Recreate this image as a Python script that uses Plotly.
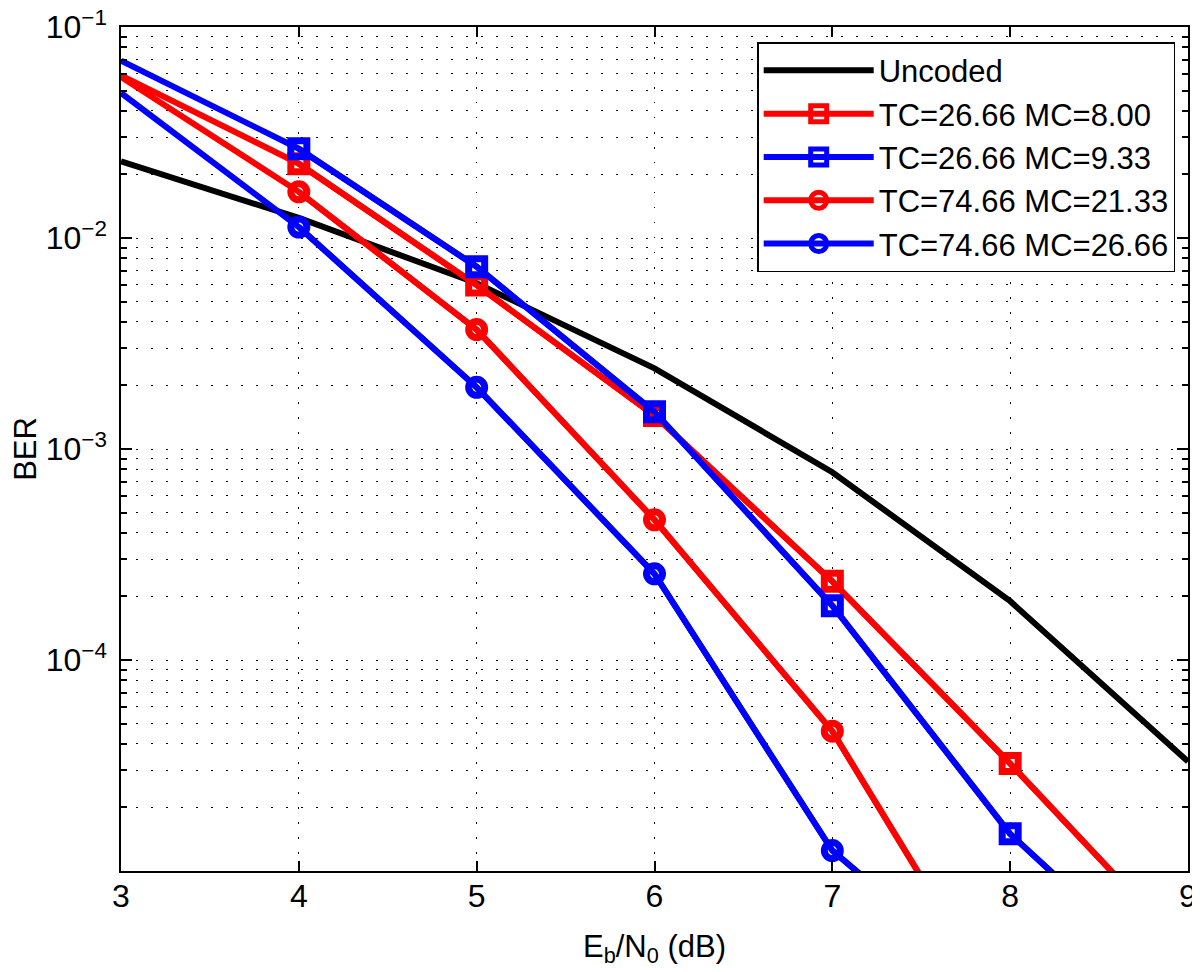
import plotly.graph_objects as go

ebn0 = [3, 4, 5, 6, 7, 8, 9]
ebn0_circ = [3, 4, 5, 6, 7, 8]

ber_uncoded = [0.0231, 0.01245, 0.0061, 0.00241, 7.76e-4, 1.9e-4, 3.3e-5]
ber_tc2666_mc800 = [0.059, 0.0225, 0.00598, 0.00144, 2.36e-4, 3.23e-5, 4.1e-6]
ber_tc2666_mc933 = [0.0693, 0.0265, 0.00731, 0.0015, 1.81e-4, 1.5e-5, 2.5e-6]
ber_tc7466_mc2133 = [0.058, 0.01655, 0.00368, 4.62e-4, 4.6e-5, 1.9e-6]
ber_tc7466_mc2666 = [0.0487, 0.01127, 0.00196, 2.56e-4, 1.25e-5, 2.4e-6]

names = ["Uncoded", "TC=26.66 MC=8.00", "TC=26.66 MC=9.33",
         "TC=74.66 MC=21.33", "TC=74.66 MC=26.66"]

y_major = [1e-4, 1e-3, 1e-2, 1e-1]
y_major_text = ["10<sup>\u22124</sup>", "10<sup>\u22123</sup>",
                "10<sup>\u22122</sup>", "10<sup>\u22121</sup>"]
y_minor = [k * 10.0 ** e for e in range(-5, -1) for k in range(2, 10)]
x_ticks = [3, 4, 5, 6, 7, 8, 9]

FONT = "Liberation Sans, Arial, Helvetica, sans-serif"
RED = "rgb(255,0,0)"
BLUE = "rgb(0,0,255)"
LW = 6

fig = go.Figure()

fig.add_trace(go.Scatter(x=ebn0, y=ber_uncoded, mode="lines", name=names[0],
                         line=dict(color="black", width=LW)))

series = [
    (ebn0, ber_tc2666_mc800, names[1], RED, "square-open"),
    (ebn0, ber_tc2666_mc933, names[2], BLUE, "square-open"),
    (ebn0_circ, ber_tc7466_mc2133, names[3], RED, "circle-open"),
    (ebn0_circ, ber_tc7466_mc2666, names[4], BLUE, "circle-open"),
]
for i, (xs, ys, nm, col, sym) in enumerate(series):
    # full line (no markers at the left edge point)
    fig.add_trace(go.Scatter(x=xs, y=ys, mode="lines", name=nm, legendgroup=nm,
                             showlegend=False, line=dict(color=col, width=LW)))
    fig.add_trace(go.Scatter(x=xs[1:], y=ys[1:], mode="lines+markers", name=nm,
                             legendgroup=nm, line=dict(color=col, width=LW),
                             marker=dict(symbol=sym, size=16, color=col,
                                         line=dict(color=col, width=7))))

grid_dash = "1.5px,13.5px"
fig.update_layout(
    width=1192, height=964,
    margin=dict(l=113, r=12, t=19, b=101),
    paper_bgcolor="white", plot_bgcolor="white",
    font=dict(family=FONT, size=32, color="black"),
    xaxis=dict(
        range=[3, 9], tickvals=x_ticks, ticks="inside", ticklen=10,
        tickwidth=1.5, tickcolor="black", showline=True, linecolor="black",
        linewidth=1.5, mirror="ticks", showgrid=True, gridcolor="black",
        gridwidth=1, griddash=grid_dash, zeroline=False, automargin=False,
        tickfont=dict(size=32), ticklabelstandoff=-4, ticklabeloverflow="allow",
        title=dict(text="E<sub>b</sub>/N<sub>0</sub> (dB)", font=dict(size=31),
                   standoff=22),
    ),
    yaxis=dict(
        type="log", range=[-5, -1], tickvals=y_major, ticktext=y_major_text,
        ticks="inside", ticklen=11, tickwidth=1.5, tickcolor="black",
        showline=True, linecolor="black", linewidth=1.5, mirror="ticks",
        showgrid=True, gridcolor="black", gridwidth=1, griddash=grid_dash,
        zeroline=False, automargin=False, tickfont=dict(size=32),
        ticklabelstandoff=6, ticklabeloverflow="allow",
        minor=dict(tickvals=y_minor, ticks="inside", ticklen=6,
                   tickwidth=1.5, tickcolor="black", showgrid=True,
                   gridcolor="black", gridwidth=1, griddash=grid_dash),
        title=dict(text="BER", font=dict(size=31), standoff=8),
    ),
    legend=dict(
        x=0.988, y=0.982, xanchor="right", yanchor="top",
        bgcolor="white", bordercolor="black", borderwidth=1.5,
        font=dict(size=31), itemwidth=110, tracegroupgap=0,
    ),
    showlegend=True,
)

fig.write_html("out.html")
